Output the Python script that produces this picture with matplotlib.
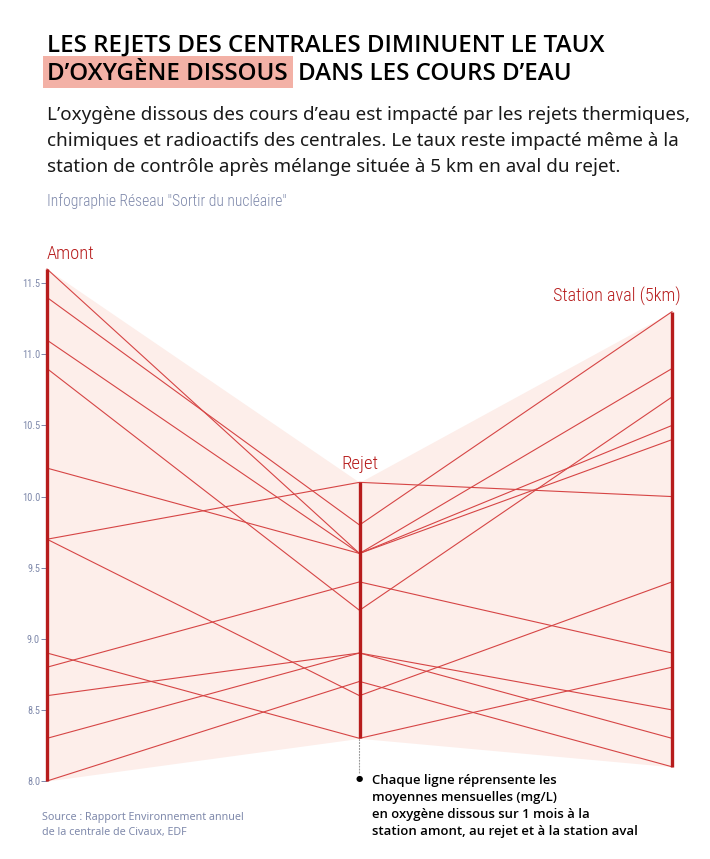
import numpy as np
import matplotlib.pyplot as plt
from matplotlib.patches import Rectangle

# monthly mean dissolved oxygen (mg/L), one entry per month
stations = ["Amont", "Rejet", "Station aval (5km)"]
amont = [11.6, 11.4, 11.1, 10.9, 10.2, 9.7, 9.7, 8.9, 8.8, 8.6, 8.3, 8.0]
rejet = [9.6, 9.8, 9.6, 9.2, 9.6, 10.1, 8.6, 8.3, 9.4, 8.9, 8.9, 8.7]
aval = [10.9, 11.3, 10.5, 10.7, 10.4, 10.0, 9.4, 8.8, 8.9, 8.5, 8.3, 8.1]
yticks = [8.0, 8.5, 9.0, 9.5, 10.0, 10.5, 11.0, 11.5]

title1 = "LES REJETS DES CENTRALES DIMINUENT LE TAUX"
title2a = "D\u2019OXYG\u00c8NE DISSOUS"
title2b = "DANS LES COURS D\u2019EAU"
subtitle = [
    "L\u2019oxyg\u00e8ne dissous des cours d\u2019eau est impact\u00e9 par les rejets thermiques,",
    "chimiques et radioactifs des centrales. Le taux reste impact\u00e9 m\u00eame \u00e0 la",
    "station de contr\u00f4le apr\u00e8s m\u00e9lange situ\u00e9e \u00e0 5 km en aval du rejet.",
]
credit = "Infographie R\u00e9seau \"Sortir du nucl\u00e9aire\""
source = ["Source : Rapport Environnement annuel", "de la centrale de Civaux, EDF"]
note = [
    "Chaque ligne r\u00e9prensente les",
    "moyennes mensuelles (mg/L)",
    "en oxyg\u00e8ne dissous sur 1 mois \u00e0 la",
    "station amont, au rejet et \u00e0 la station aval",
]

RED = "#b71c1c"
LINE = "#d64545"
FILL = "#fdeeea"
GREY = "#7f89ab"
HILITE = "#f3b1a6"
COND = ["Roboto Condensed", "Noto Sans Condensed", "Liberation Sans Narrow", "DejaVu Sans"]
HEAD = ["Open Sans", "Noto Sans", "DejaVu Sans"]

W, H = 710, 859
fig = plt.figure(figsize=(W / 100, H / 100), dpi=100)
fig.patch.set_facecolor("white")


def fx(px):
    return px / W


def fy(py):
    return 1 - py / H


# ##### chart ##### #
ax = fig.add_axes([fx(47), fy(781), fx(672) - fx(47), fy(269) - fy(781)])
ax.set_xlim(0, 2)
ax.set_ylim(8.0, 11.6)

data = np.array([amont, rejet, aval])
xs = np.arange(len(stations))
lo = data.min(axis=1)
hi = data.max(axis=1)

ax.fill_between(xs, lo, hi, color=FILL, lw=0, clip_on=False, zorder=1)
for row in data.T:
    ax.plot(xs, row, color=LINE, lw=0.8, clip_on=False, zorder=2)
ax.vlines(xs, lo, hi, color=RED, lw=2.4, clip_on=False, zorder=3)

ax.set_yticks(yticks)
ax.set_yticklabels(["%.1f" % v for v in yticks], family=COND, stretch="condensed")
ax.tick_params(axis="y", length=4, width=0.7, color=GREY, labelcolor=GREY,
               labelsize=7.5, pad=1)
ax.set_xticks([])
for s in ax.spines.values():
    s.set_visible(False)
ax.patch.set_alpha(0)

lab_kw = dict(textcoords="offset points", color=RED, family=COND,
              stretch="condensed", weight="light", fontsize=14, va="bottom")
t_amont = ax.annotate(stations[0], xy=(0, hi[0]), xytext=(0, 4), ha="left", **lab_kw)
t_rejet = ax.annotate(stations[1], xy=(1, hi[1]), xytext=(0, 7), ha="center", **lab_kw)
t_aval = ax.annotate(stations[2], xy=(2, hi[2]), xytext=(6, 4), ha="right", **lab_kw)

# dotted leader from the lowest rejet value to the note
ax.annotate("", xy=(1, lo[1]), xytext=(0, -25), textcoords="offset points",
            arrowprops=dict(arrowstyle="-", ls=":", color="#999999", lw=0.8,
                            shrinkA=0, shrinkB=0))
ax.annotate("\u25cf", xy=(1, lo[1]), xytext=(0, -29), textcoords="offset points",
            ha="center", va="center", fontsize=6, color="black")

# ##### texts ##### #
t1 = fig.text(fx(47), fy(52), title1, fontsize=18, color="black",
              family=HEAD, weight="semibold", va="baseline")
t2a = fig.text(fx(47), fy(80), title2a, fontsize=18, color="black",
               family=HEAD, weight="semibold", va="baseline", zorder=3)
t2b = fig.text(fx(308), fy(80), title2b, fontsize=18, color="black",
               family=HEAD, weight="semibold", va="baseline")

subs = []
for i, line in enumerate(subtitle):
    subs.append(fig.text(fx(47), fy(120 + 26 * i), line, fontsize=13, color="#1a1a1a",
                         family="Noto Sans", va="baseline"))

t_credit = fig.text(fx(47), fy(206), credit, fontsize=11, color=GREY,
                    family=COND, stretch="condensed", weight="light", va="baseline")

srcs = []
for i, line in enumerate(source):
    srcs.append(fig.text(fx(42), fy(820 + 15 * i), line, fontsize=9, color=GREY,
                         family="Noto Sans", va="baseline"))

notes = []
for i, line in enumerate(note):
    notes.append(fig.text(fx(372), fy(784 + 17 * i), line, fontsize=10, color="black",
                          family=HEAD, weight="semibold", va="baseline"))

# fit text widths to the reference layout
fig.canvas.draw()
r = fig.canvas.get_renderer()


def fit(t, px):
    w = t.get_window_extent(r).width
    t.set_fontsize(t.get_fontsize() * px / w)


fit(t1, 557)
t2a.set_fontsize(t1.get_fontsize())
t2b.set_fontsize(t1.get_fontsize())
fit(subs[0], 645)
for t in subs[1:]:
    t.set_fontsize(subs[0].get_fontsize())
fit(t_credit, 240)
fit(srcs[0], 201)
srcs[1].set_fontsize(srcs[0].get_fontsize())
fit(notes[3], 264)
for t in notes[:3]:
    t.set_fontsize(notes[3].get_fontsize())
fit(t_amont, 48)
fit(t_rejet, 37)
fit(t_aval, 128)

fig.canvas.draw()
e = t2a.get_window_extent(r)
fig.patches.append(Rectangle((fx(43), fy(88)), (e.x1 + 5 - 43) / W, 32 / H,
                             transform=fig.transFigure, facecolor=HILITE,
                             edgecolor="none", zorder=1))
t2b.set_x(fx(e.x1 + 10))

fig.savefig("out.png", dpi=100, facecolor="white")
